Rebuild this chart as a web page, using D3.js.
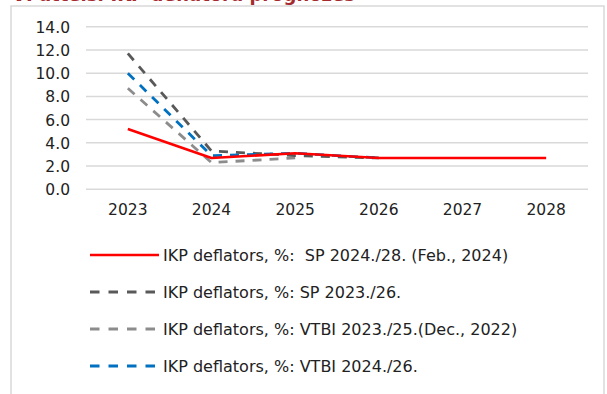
<!DOCTYPE html>
<html>
<head>
<meta charset="utf-8">
<script src="https://cdn.jsdelivr.net/npm/d3@7"></script>
<style>
  html, body { margin: 0; padding: 0; background: #fff; }
  svg { display: block; }
  text { font-family: "DejaVu Sans", Verdana, sans-serif; }
</style>
</head>
<body>
<svg id="chart" width="607" height="394"></svg>
<script>
// Years on the x axis
const years = ["2023", "2024", "2025", "2026", "2027", "2028"];
// Y axis ticks
const yTicks = [0, 2, 4, 6, 8, 10, 12, 14];

// GDP deflator forecasts, % (one array per forecast vintage)
const sp2024 = [5.2, 2.7, 3.1, 2.7, 2.7, 2.7];
const sp2023 = [11.7, 3.3, 2.9, 2.7];
const vtbi2023 = [8.7, 2.3, 2.7];
const vtbi2024 = [10.0, 2.9, 3.1, 2.7];

const seriesNames = [
  "IKP deflators, %:  SP 2024./28. (Feb., 2024)",
  "IKP deflators, %: SP 2023./26.",
  "IKP deflators, %: VTBI 2023./25.(Dec., 2022)",
  "IKP deflators, %: VTBI 2024./26."
];

const series = [
  { name: seriesNames[0], values: sp2024, color: "#ff0000", dash: null, width: 2.6 },
  { name: seriesNames[1], values: sp2023, color: "#595959", dash: "9,8", width: 2.8 },
  { name: seriesNames[2], values: vtbi2023, color: "#8c8c8c", dash: "9,8", width: 2.8 },
  { name: seriesNames[3], values: vtbi2024, color: "#0070c0", dash: "9,8", width: 2.8 }
];

const svg = d3.select("#chart");

// Chart frame
svg.append("rect")
  .attr("x", 11).attr("y", 6).attr("width", 593).attr("height", 400)
  .attr("fill", "#fff").attr("stroke", "#d9d9d9").attr("stroke-width", 1.5);

// Title (sits partly above the frame)
svg.append("text")
  .attr("x", 12).attr("y", 1)
  .attr("font-size", 18).attr("font-weight", "bold")
  .attr("fill", "#a52a2f")
  .text("VI attēls. IKP deflatora prognozes");

const x = d3.scaleBand().domain(years).range([86, 588]);
const y = d3.scaleLinear().domain([0, 14]).range([189.3, 26.7]);

// Gridlines
svg.append("g")
  .selectAll("line")
  .data(yTicks)
  .join("line")
  .attr("x1", 86).attr("x2", 588)
  .attr("y1", d => y(d)).attr("y2", d => y(d))
  .attr("stroke", "#d9d9d9").attr("stroke-width", 1.5);

// Y axis labels
const yAxis = d3.axisLeft(y).tickValues(yTicks).tickFormat(d3.format(".1f")).tickSize(0).tickPadding(0);
const yg = svg.append("g").attr("transform", "translate(70,0)").call(yAxis);
yg.select(".domain").remove();
yg.selectAll("text").attr("font-size", 15.5).attr("fill", "#222").attr("dy", "0.36em")
  .style("font-family", "'DejaVu Sans', Verdana, sans-serif");

// X axis labels
const xAxis = d3.axisBottom(x).tickSize(0).tickPadding(0);
const xg = svg.append("g").attr("transform", "translate(0,204)").call(xAxis);
xg.select(".domain").remove();
xg.selectAll("text").attr("font-size", 15.5).attr("fill", "#222").attr("dy", "0.71em")
  .style("font-family", "'DejaVu Sans', Verdana, sans-serif");

// Lines, drawn back to front so the red forecast sits on top
const line = d3.line()
  .x((d, i) => x(years[i]) + x.bandwidth() / 2)
  .y(d => y(d));

const drawOrder = [2, 1, 3, 0];
svg.append("g")
  .selectAll("path")
  .data(drawOrder.map(i => series[i]))
  .join("path")
  .attr("d", d => line(d.values))
  .attr("fill", "none")
  .attr("stroke", d => d.color)
  .attr("stroke-width", d => d.width)
  .attr("stroke-dasharray", d => d.dash)
  .attr("stroke-linejoin", "round");

// Legend
const legend = svg.append("g")
  .selectAll("g")
  .data(series)
  .join("g")
  .attr("transform", (d, i) => `translate(90,${255 + i * 37})`);

legend.append("line")
  .attr("x1", 0).attr("x2", d => d.dash ? 66 : 69)
  .attr("stroke", d => d.color)
  .attr("stroke-width", d => d.width)
  .attr("stroke-dasharray", d => d.dash ? "9.5,9" : null);

legend.append("text")
  .attr("x", 73).attr("dy", "0.36em")
  .attr("font-size", 16).attr("fill", "#222")
  .style("white-space", "pre")
  .text(d => d.name);
</script>
</body>
</html>
